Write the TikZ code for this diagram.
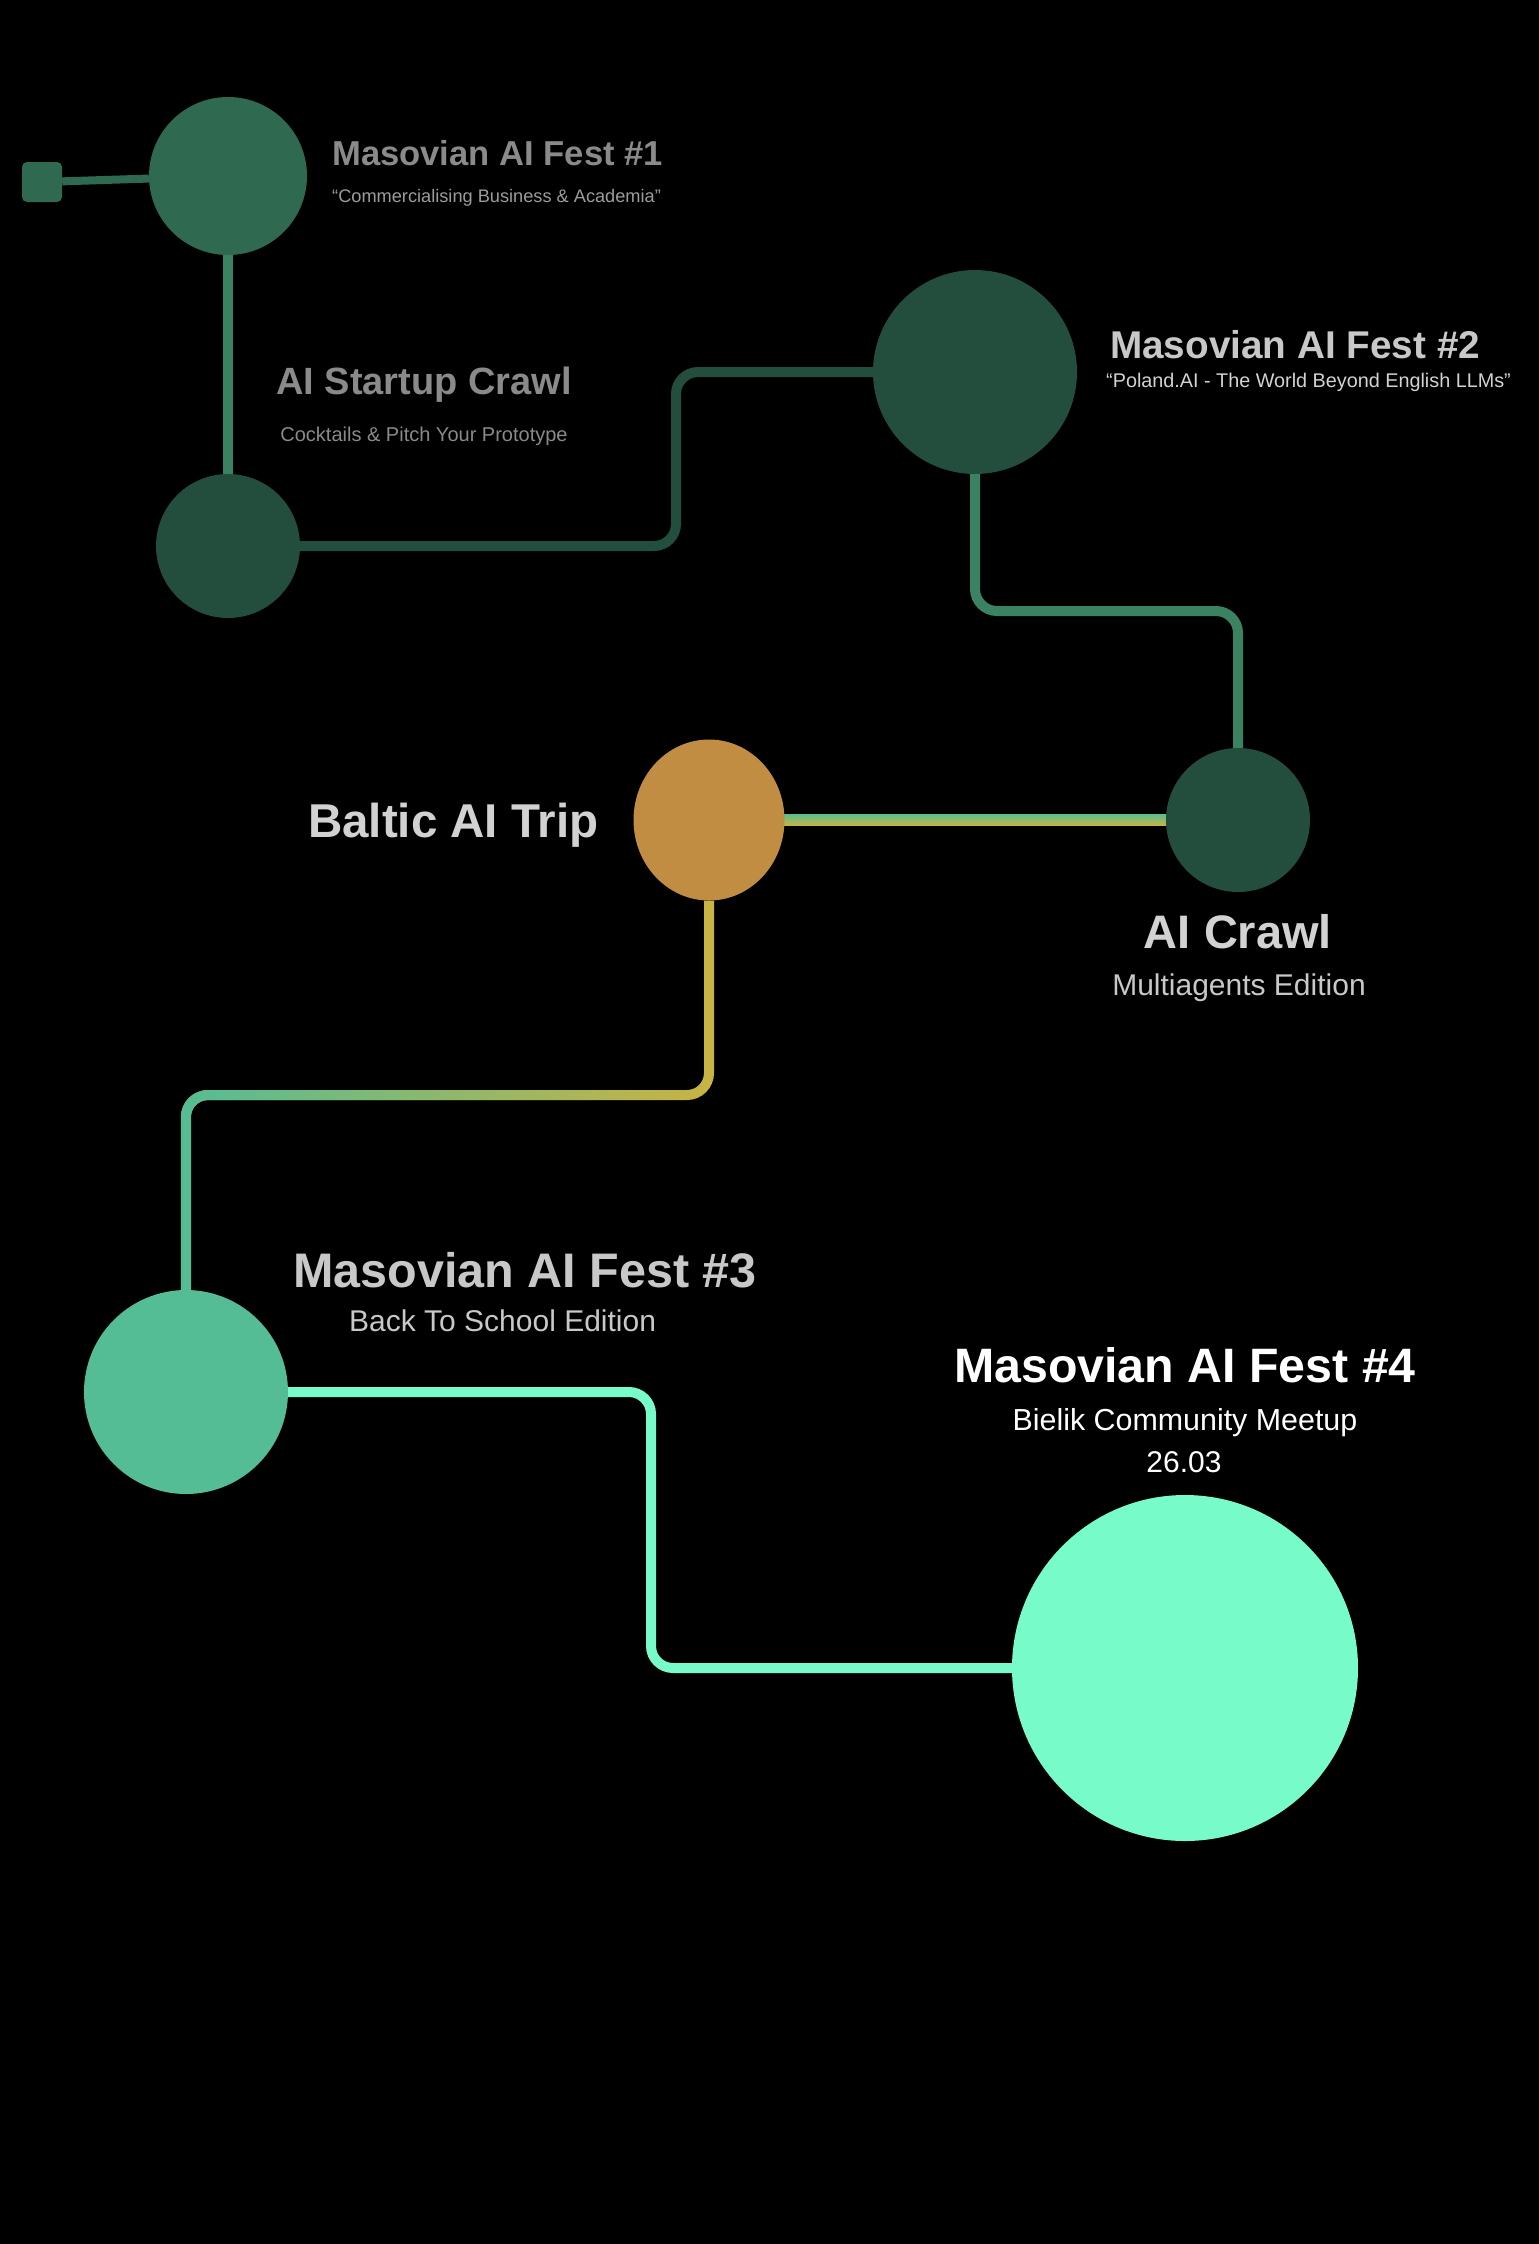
\documentclass[tikz,border=0pt]{standalone}
\usepackage{fontspec}
\setmainfont{Liberation Sans}
\usetikzlibrary{positioning}
\usetikzlibrary{shapes.geometric}
\usetikzlibrary{calc, fadings, backgrounds}

\definecolor{pine}{HTML}{2F6A50}
\definecolor{pineline}{HTML}{3B8262}
\definecolor{forest}{HTML}{234D3C}
\definecolor{amber}{HTML}{C18D43}
\definecolor{olive}{HTML}{C9B443}
\definecolor{leaf}{HTML}{5DBE8C}
\definecolor{jade}{HTML}{55BD95}
\definecolor{mint}{HTML}{77FBC8}
\definecolor{dimgrey}{HTML}{8A8A8A}
\definecolor{softgrey}{HTML}{C8C8C8}
\definecolor{lightgrey}{HTML}{D2D2D2}

\tikzfading[name=greenleft, left color=transparent!0, right color=transparent!100]

\begin{document}
\begin{tikzpicture}[x=1pt, y=-1pt,
			event/.style = {circle, inner sep=0pt, minimum size=#1},
			headline/.style = {inner sep=0pt, font=\bfseries\fontsize{#1}{#1}\selectfont},
			tagline/.style = {inner sep=0pt, font=\fontsize{#1}{#1}\selectfont},
			link/.style = {line width=10pt, rounded corners=22pt}]
			\useasboundingbox (0,0) rectangle (1539,2244);
			\node (plug) [rectangle, rounded corners=5pt, minimum size=40pt, fill=pine] at (42,182) {};
			\node (f1) [event=158pt, fill=pine] at (228,176) {};
			\node (sc) [event=144pt, fill=forest] at (228,546) {};
			\node (f2) [event=204pt, fill=forest] at (975,372) {};
			\node (cr) [event=144pt, fill=forest] at (1238,820) {};
			\node (bt) [ellipse, inner sep=0pt, minimum width=151pt, minimum height=161pt, fill=amber] at (709,820) {};
			\node (f3) [event=204pt, fill=jade] at (186,1392) {};
			\node (f4) [event=346pt, fill=mint] at (1185,1668) {};
			\coordinate (b1) at (676,546);
			\coordinate (b2) at (977,611);
			\coordinate (b3) at (709,1095);
			\coordinate (b4) at (651,1392);
			\node (t1) [headline=34.6, text=dimgrey, anchor=base west] at (332,165) {Masovian AI Fest \#1};
			\node (s1) [tagline=18.2, text=dimgrey!85!white, anchor=base west] at (332,202) {“Commercialising Business \& Academia”};
			\node (t2) [headline=38, text=dimgrey, anchor=base] at (424,394) {AI Startup Crawl};
			\node (s2) [tagline=20, text=dimgrey, anchor=base] at (424,441) {Cocktails \& Pitch Your Prototype};
			\node (t3) [headline=38.7, text=softgrey, anchor=base west] at (1110,358) {Masovian AI Fest \#2};
			\node (s3) [tagline=19.8, text=lightgrey, anchor=base west] at (1106,387) {“Poland.AI - The World Beyond English LLMs”};
			\node (t4) [headline=47.5, text=lightgrey, anchor=base west] at (308,837) {Baltic AI Trip};
			\node (t5) [headline=47, text=lightgrey, anchor=base] at (1238,948) {AI Crawl};
			\node (s5) [tagline=30, text=softgrey, anchor=base] at (1239,995) {Multiagents Edition};
			\node (t6) [headline=48.5, text=softgrey, anchor=base west] at (293,1287) {Masovian AI Fest \#3};
			\node (s6) [tagline=30, text=softgrey, anchor=base west] at (349,1331) {Back To School Edition};
			\node (t7) [headline=48.3, text=white, anchor=base] at (1185,1382) {Masovian AI Fest \#4};
			\node (s7) [tagline=30.4, text=white, anchor=base] at (1185,1430) {Bielik Community Meetup};
			\node (s8) [tagline=30, text=white, anchor=base] at (1184,1472) {26.03};
			\begin{scope}[on background layer]
			\fill[black] (0,0) rectangle (1539,2244);
			\draw [pine, line width=8pt] (plug) -- (f1);
			\draw [link, pineline] (f1) -- (sc);
			\draw [link, forest] (sc) -- (sc -| b1) |- (f2);
			\draw [link, pineline] (f2) -- (f2 |- b2) -| (cr);
			\shade [top color=leaf, bottom color=olive] ($(bt.center)+(0,-5.5)$) rectangle ($(cr.center)+(0,5.5)$);
			\draw [link, olive] (bt) -- (bt |- b3) -| (f3);
			\draw [link, jade, path fading=greenleft] (bt) -- (bt |- b3) -| (f3);
			\draw [link, mint] (f3) -- (f3 -| b4) |- (f4);
			\end{scope}
		\end{tikzpicture}
\end{document}
